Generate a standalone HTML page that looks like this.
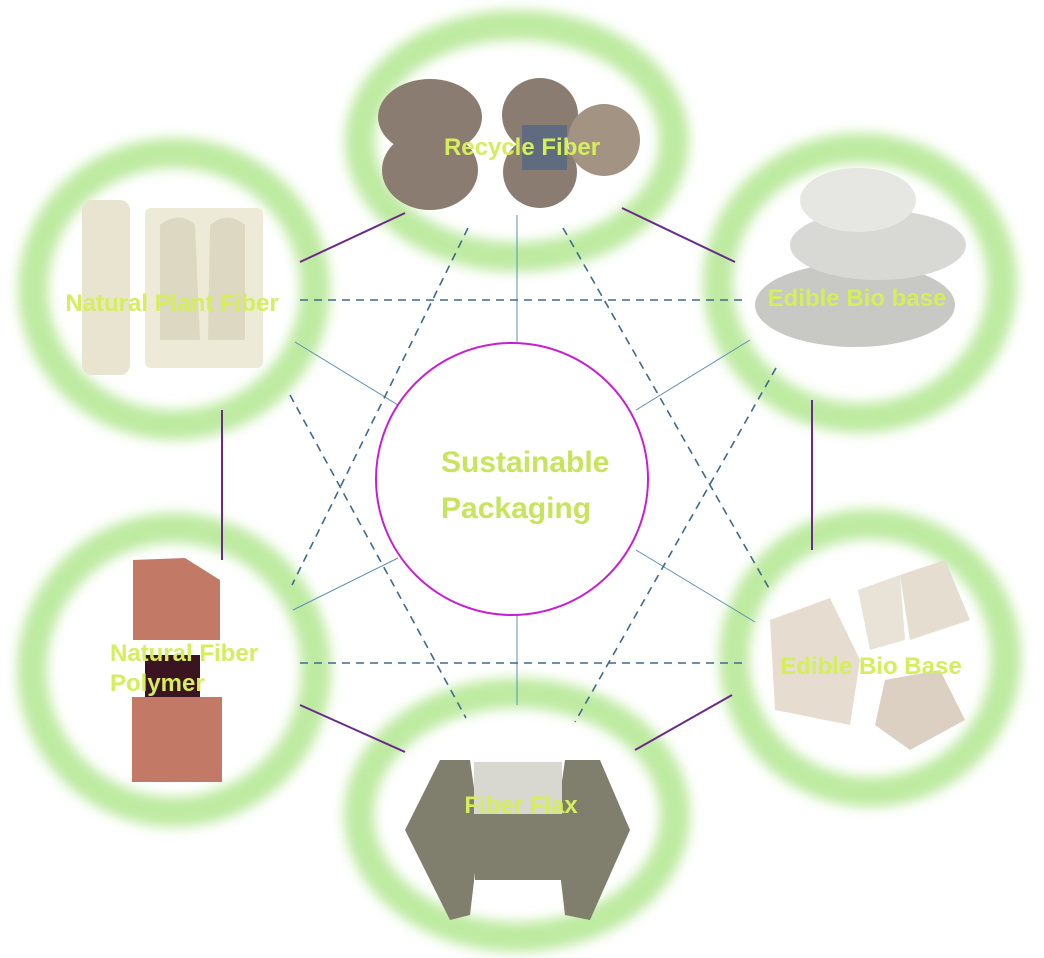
<!DOCTYPE html>
<html><head><meta charset="utf-8"><style>
html,body{margin:0;padding:0;background:#fff;}
svg{display:block;}
.lbl{font-family:"Liberation Sans",sans-serif;font-weight:bold;font-size:24px;fill:#d4ee5c;}
</style></head><body>
<svg width="1044" height="958" viewBox="0 0 1044 958" xmlns="http://www.w3.org/2000/svg">
<defs>
<filter id="b" x="-20%" y="-20%" width="140%" height="140%"><feGaussianBlur stdDeviation="6"/></filter>
</defs>
<g fill="none" stroke="#bdeaa0" stroke-width="30" filter="url(#b)">
<ellipse cx="517" cy="141" rx="157" ry="116"/>
<ellipse cx="174" cy="289" rx="141" ry="136"/>
<ellipse cx="860" cy="283" rx="142" ry="135"/>
<ellipse cx="174" cy="670" rx="142" ry="142"/>
<ellipse cx="870" cy="658" rx="136" ry="134"/>
<ellipse cx="517" cy="815" rx="158" ry="122"/>
</g>
<g stroke="#6a2a8a" stroke-width="2">
<line x1="300" y1="262" x2="405" y2="213"/>
<line x1="622" y1="208" x2="735" y2="262"/>
<line x1="812" y1="400" x2="812" y2="550"/>
<line x1="635" y1="750" x2="732" y2="695"/>
<line x1="405" y1="752" x2="300" y2="705"/>
<line x1="222" y1="410" x2="222" y2="560"/>
</g>
<g stroke="#5b8fb8" stroke-width="1">
<line x1="517" y1="215" x2="517" y2="342"/>
<line x1="295" y1="342" x2="398" y2="405"/>
<line x1="750" y1="340" x2="636" y2="410"/>
<line x1="755" y1="622" x2="636" y2="550"/>
<line x1="293" y1="610" x2="398" y2="558"/>
<line x1="517" y1="615" x2="517" y2="705"/>
</g>
<g stroke="#3e6a8e" stroke-width="1.6" stroke-dasharray="8,6" fill="none">
<line x1="300" y1="300" x2="742" y2="300"/>
<line x1="300" y1="663" x2="745" y2="663"/>
<line x1="468" y1="228" x2="292" y2="585"/>
<line x1="563" y1="228" x2="770" y2="590"/>
<line x1="290" y1="395" x2="466" y2="718"/>
<line x1="776" y1="368" x2="575" y2="722"/>
</g>
<circle cx="512" cy="479" r="136" fill="#fff" stroke="#c81ed2" stroke-width="2"/>
<text x="441" y="472" font-family="Liberation Sans,sans-serif" font-weight="bold" font-size="30" fill="#c7e45c">Sustainable</text>
<text x="441" y="518" font-family="Liberation Sans,sans-serif" font-weight="bold" font-size="30" fill="#c7e45c">Packaging</text>
<g fill="#8a7c70">
<ellipse cx="430" cy="117" rx="52" ry="38"/>
<ellipse cx="430" cy="170" rx="48" ry="40"/>
<ellipse cx="540" cy="115" rx="38" ry="37"/>
<ellipse cx="540" cy="172" rx="37" ry="36"/>
<circle cx="604" cy="140" r="36" fill="#a39383"/>
<rect x="522" y="125" width="45" height="45" fill="#5f6b7f"/>
</g>
<g>
<rect x="145" y="208" width="118" height="160" rx="6" fill="#eeead8"/>
<rect x="82" y="200" width="48" height="175" rx="10" fill="#e8e4d0"/>
<path d="M160 225 Q180 210 195 225 L200 340 L160 340 Z" fill="#dcd8c2"/>
<path d="M210 225 Q228 210 245 225 L245 340 L208 340 Z" fill="#dcd8c2"/>
</g>
<g>
<ellipse cx="855" cy="305" rx="100" ry="42" fill="#c8c8c4"/>
<ellipse cx="878" cy="245" rx="88" ry="35" fill="#d8d8d4"/>
<ellipse cx="858" cy="200" rx="58" ry="32" fill="#e6e6e2"/>
</g>
<g fill="#c27a66">
<path d="M133 560 L185 558 L220 580 L220 640 L133 640 Z"/>
<rect x="132" y="697" width="90" height="85"/>
<rect x="145" y="655" width="55" height="42" fill="#3a1420"/>
</g>
<g>
<path d="M770 620 L830 598 L860 660 L850 725 L775 710 Z" fill="#e6ddd0"/>
<path d="M858 590 L900 575 L905 640 L870 650 Z" fill="#e9e2d6"/>
<path d="M900 575 L945 560 L970 620 L910 640 Z" fill="#e5ddd0"/>
<path d="M885 680 L940 670 L965 720 L910 750 L875 725 Z" fill="#dcd0c2"/>
</g>
<g fill="#807e6c">
<path d="M405 830 L440 760 L470 760 L480 830 L470 915 L450 920 Z"/>
<path d="M630 830 L600 760 L565 760 L555 830 L565 915 L590 920 Z"/>
<rect x="475" y="805" width="90" height="75"/>
<rect x="474" y="762" width="88" height="52" fill="#d8d8d0"/>
</g>
<text class="lbl" x="522" y="155" text-anchor="middle">Recycle Fiber</text>
<text class="lbl" x="172" y="311" text-anchor="middle">Natural Plant Fiber</text>
<text class="lbl" x="857" y="306" text-anchor="middle">Edible Bio base</text>
<text class="lbl" x="110" y="661">Natural Fiber</text>
<text class="lbl" x="110" y="691">Polymer</text>
<text class="lbl" x="871" y="674" text-anchor="middle">Edible Bio Base</text>
<text class="lbl" x="521" y="813" text-anchor="middle">Fiber Flax</text>
</svg>
</body></html>
